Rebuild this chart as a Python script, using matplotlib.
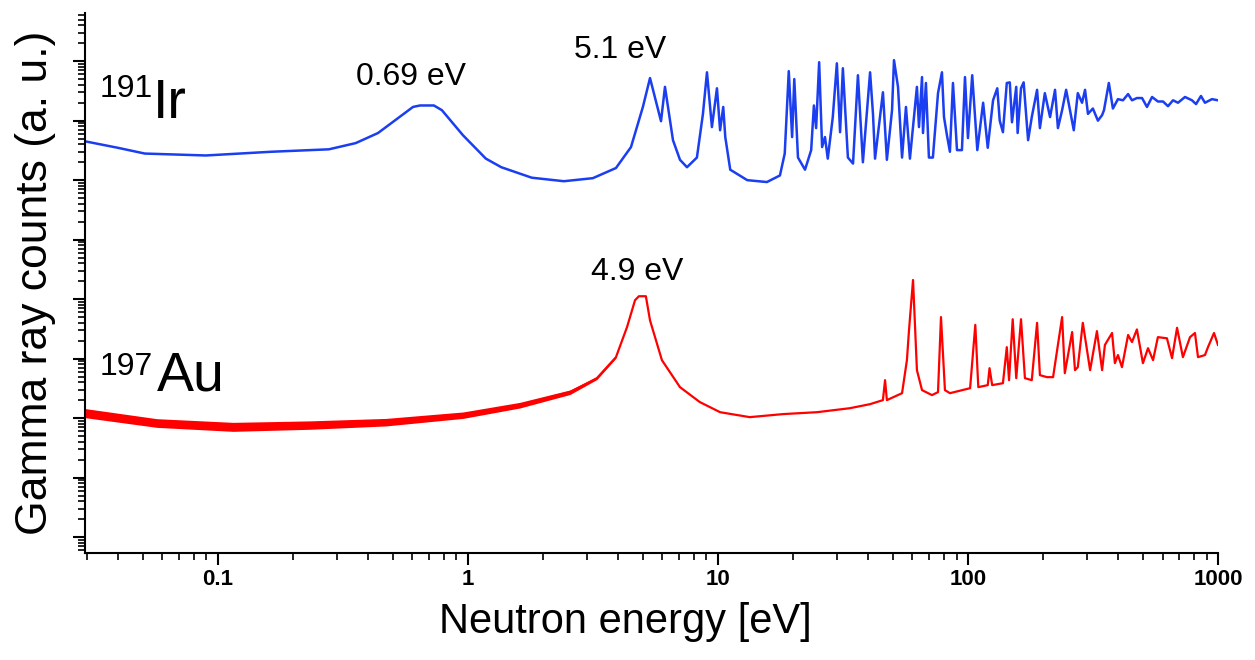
"""
Espectros de captura de neutrones: 191Ir y 197Au
"""
import matplotlib
matplotlib.use('Agg')
import matplotlib.pyplot as plt
from matplotlib.ticker import LogLocator, NullFormatter

plt.rcParams['font.family'] = ['Liberation Sans', 'DejaVu Sans']

# 191Ir: energía del neutrón [eV] y cuentas gamma (u. a.)
ir_energy = [0.0294, 0.0398, 0.051, 0.0895, 0.163, 0.278, 0.356, 0.437, 0.525, 0.603,
             0.643, 0.731, 0.787, 0.955, 1.18, 1.36, 1.80, 2.42, 3.16, 3.91,
             4.49, 5.01, 5.35, 5.92, 6.14, 6.61, 7.05, 7.52, 8.24, 8.71,
             9.04, 9.46, 9.91, 10.2, 10.5, 10.7, 11.2, 13.1, 15.7, 17.7,
             18.5, 19.2, 19.8, 20.2, 20.9, 22.3, 23.6, 24.2, 24.7, 25.4,
             26.1, 26.8, 27.5, 28.8, 29.9, 30.8, 31.6, 33.1, 34.7, 36.3,
             38.0, 40.6, 41.7, 42.5, 44.5, 45.7, 47.4, 49.7, 50.6, 52.5,
             54.5, 56.5, 58.6, 62.5, 63.7, 65.5, 66.1, 67.9, 69.8, 72.4,
             75.9, 78.7, 80.2, 82.4, 84.7, 87.1, 90.4, 94.6, 97.3, 100,
             104, 109, 115, 120, 126, 131, 134, 138, 143, 147,
             150, 156, 158, 163, 167, 174, 180, 189, 194, 203,
             213, 223, 229, 238, 247, 256, 265, 275, 286, 294,
             302, 316, 331, 344, 350, 366, 380, 398, 417, 437,
             453, 474, 497, 520, 545, 575, 603, 631, 661, 692,
             738, 787, 817, 855, 887, 946, 1000]
ir_counts = [4.5e6, 3.5e6, 2.8e6, 2.6e6, 3.0e6, 3.3e6, 4.2e6, 6.2e6, 1.1e7, 1.7e7,
             1.8e7, 1.8e7, 1.5e7, 5.7e6, 2.3e6, 1.65e6, 1.1e6, 9.6e5, 1.08e6, 1.6e6,
             3.6e6, 1.7e7, 5.2e7, 9.8e6, 3.7e7, 4.7e6, 2.2e6, 1.65e6, 2.4e6, 1.3e7,
             6.5e7, 7.8e6, 3.5e7, 6.9e6, 1.7e7, 5.3e6, 1.5e6, 1.0e6, 9.3e5, 1.2e6,
             2.8e6, 6.8e7, 5.3e6, 5.0e7, 2.4e6, 1.5e6, 3.2e6, 1.8e7, 7.5e6, 9.6e7,
             3.6e6, 5.3e6, 2.3e6, 1.15e7, 9.2e7, 6.4e6, 7.6e7, 2.4e6, 1.9e6, 5.8e7,
             2.0e6, 6.5e7, 1.3e7, 2.3e6, 1.15e7, 3.0e7, 2.2e6, 1.5e7, 1.04e8, 3.7e7,
             2.4e6, 1.7e7, 2.3e6, 3.7e7, 7.8e6, 5.4e7, 6.2e6, 4.3e7, 2.4e6, 2.4e6,
             2.9e7, 6.5e7, 1.15e7, 5.7e6, 3.0e6, 4.3e7, 3.2e6, 3.2e6, 5.4e7, 5.1e6,
             5.8e7, 3.2e6, 2.0e7, 3.5e6, 2.2e7, 3.5e7, 1.0e7, 6.4e6, 4.3e7, 4.4e7,
             9.4e6, 3.7e7, 6.2e6, 3.5e7, 4.4e7, 4.7e6, 1.15e7, 3.3e7, 7.5e6, 2.9e7,
             1.15e7, 3.3e7, 7.5e6, 1.5e7, 3.3e7, 1.5e7, 6.9e6, 2.9e7, 2.0e7, 3.3e7,
             1.3e7, 1.6e7, 1.0e7, 1.24e7, 1.5e7, 4.3e7, 1.6e7, 2.3e7, 2.2e7, 2.8e7,
             2.2e7, 2.4e7, 2.4e7, 1.7e7, 2.5e7, 2.1e7, 2.1e7, 1.75e7, 2.2e7, 2.0e7,
             2.5e7, 2.2e7, 1.9e7, 2.6e7, 2.0e7, 2.3e7, 2.2e7]

# 197Au
au_energy = [0.0294, 0.057, 0.115, 0.233, 0.470, 0.955, 1.61, 2.56, 3.28, 3.91,
             4.33, 4.66, 4.83, 5.15, 5.35, 5.97, 7.05, 8.47, 10.2, 13.4,
             18.2, 24.9, 33.7, 40.6, 45.7, 46.6, 47.4, 54.5, 57.0, 58.1,
             60.3, 62.5, 65.5, 71.8, 75.9, 78.0, 80.9, 84.7, 102, 107,
             110, 120, 122, 125, 138, 143, 146, 151, 156, 163,
             169, 180, 189, 194, 207, 219, 238, 244, 261, 268,
             275, 288, 308, 328, 344, 353, 377, 387, 398, 413,
             437, 453, 474, 501, 525, 550, 575, 625, 655, 686,
             724, 773, 809, 832, 887, 912, 964, 1000]
au_counts = [121, 82, 71, 76, 86, 112, 165, 274, 470, 1060,
             3400, 9600, 11200, 11200, 4400, 944, 332, 186, 126, 104,
             117, 126, 147, 172, 201, 435, 201, 263, 944, 3000,
             21000, 641, 296, 244, 274, 5000, 296, 263, 319, 3700,
             332, 359, 692, 359, 387, 1560, 435, 4600, 470, 4600,
             470, 435, 4000, 528, 489, 489, 5000, 570, 2800, 641,
             720, 4000, 641, 2900, 641, 1700, 2700, 840, 1150, 720,
             2500, 1900, 3100, 840, 1500, 944, 2300, 2200, 1020, 3300,
             1060, 2300, 2700, 1060, 1150, 1560, 2700, 1700]

# banda de ruido del Au a baja energía (envolventes)
au_band_energy = [0.0294, 0.057, 0.115, 0.233, 0.470, 0.955, 1.61, 2.56, 3.28, 3.91]
au_band_high = [145, 98, 85, 90, 99, 127, 184, 298, 495, 1100]
au_band_low = [102, 70, 60, 65, 74, 99, 148, 250, 446, 1020]

xtick_values = [0.1, 1, 10, 100, 1000]
xtick_labels = ['0.1', '1', '10', '100', '1000']


def plot_spectra(save_path='out.png'):
    """Genera el gráfico de ambos espectros"""
    fig = plt.figure(figsize=(12.55, 6.6), dpi=100)
    ax = fig.add_axes([0.0677, 0.162, 0.9028, 0.818])

    ax.fill_between(au_band_energy, au_band_low, au_band_high,
                    color='#ff0000', linewidth=0)
    ax.plot(au_energy, au_counts, color='#ff0000', lw=1.6)
    ax.plot(ir_energy, ir_counts, color='#1a3ef0', lw=1.8)

    ax.set_xscale('log')
    ax.set_yscale('log')
    ax.set_xlim(0.0294, 1000)
    ax.set_ylim(0.54, 6.4e8)

    ax.set_xticks(xtick_values, xtick_labels, fontsize=16, fontweight='bold')
    ax.xaxis.set_minor_locator(LogLocator(base=10, subs=range(2, 10), numticks=50))
    ax.xaxis.set_minor_formatter(NullFormatter())
    ax.yaxis.set_major_locator(LogLocator(base=10, numticks=50))
    ax.yaxis.set_minor_locator(LogLocator(base=10, subs=range(2, 10), numticks=50))
    ax.yaxis.set_major_formatter(NullFormatter())
    ax.yaxis.set_minor_formatter(NullFormatter())
    ax.tick_params(which='major', direction='out', length=8.5, width=1.5, pad=3)
    ax.tick_params(which='minor', direction='out', length=5, width=1.2)

    for side in ['top', 'right']:
        ax.spines[side].set_visible(False)
    for side in ['left', 'bottom']:
        ax.spines[side].set_linewidth(1.5)

    ax.set_xlabel('Neutron energy [eV]', fontsize=30)
    ax.xaxis.label.set_va('center')
    ax.xaxis.set_label_coords(0.477, -0.128)
    ax.set_ylabel('Gamma ray counts (a. u.)', fontsize=32)
    ax.yaxis.label.set_va('center')
    ax.yaxis.set_label_coords(-0.044, 0.5)

    # etiquetas de resonancias
    ax.text(0.592, 3.95e7, '0.69 eV', fontsize=23, ha='center')
    ax.text(4.06, 1.12e8, '5.1 eV', fontsize=23, ha='center')
    ax.text(4.74, 2.08e4, '4.9 eV', fontsize=23, ha='center')

    # nombres de los isótopos
    ax.text(0.055, 2.5e7, '191', fontsize=23, ha='right')
    ax.text(0.055, 1.1e7, 'Ir', fontsize=40, ha='left')
    ax.text(0.055, 528, '197', fontsize=23, ha='right')
    ax.text(0.057, 296, 'Au', fontsize=40, ha='left')

    fig.savefig(save_path, dpi=100)
    plt.close(fig)


plot_spectra()
